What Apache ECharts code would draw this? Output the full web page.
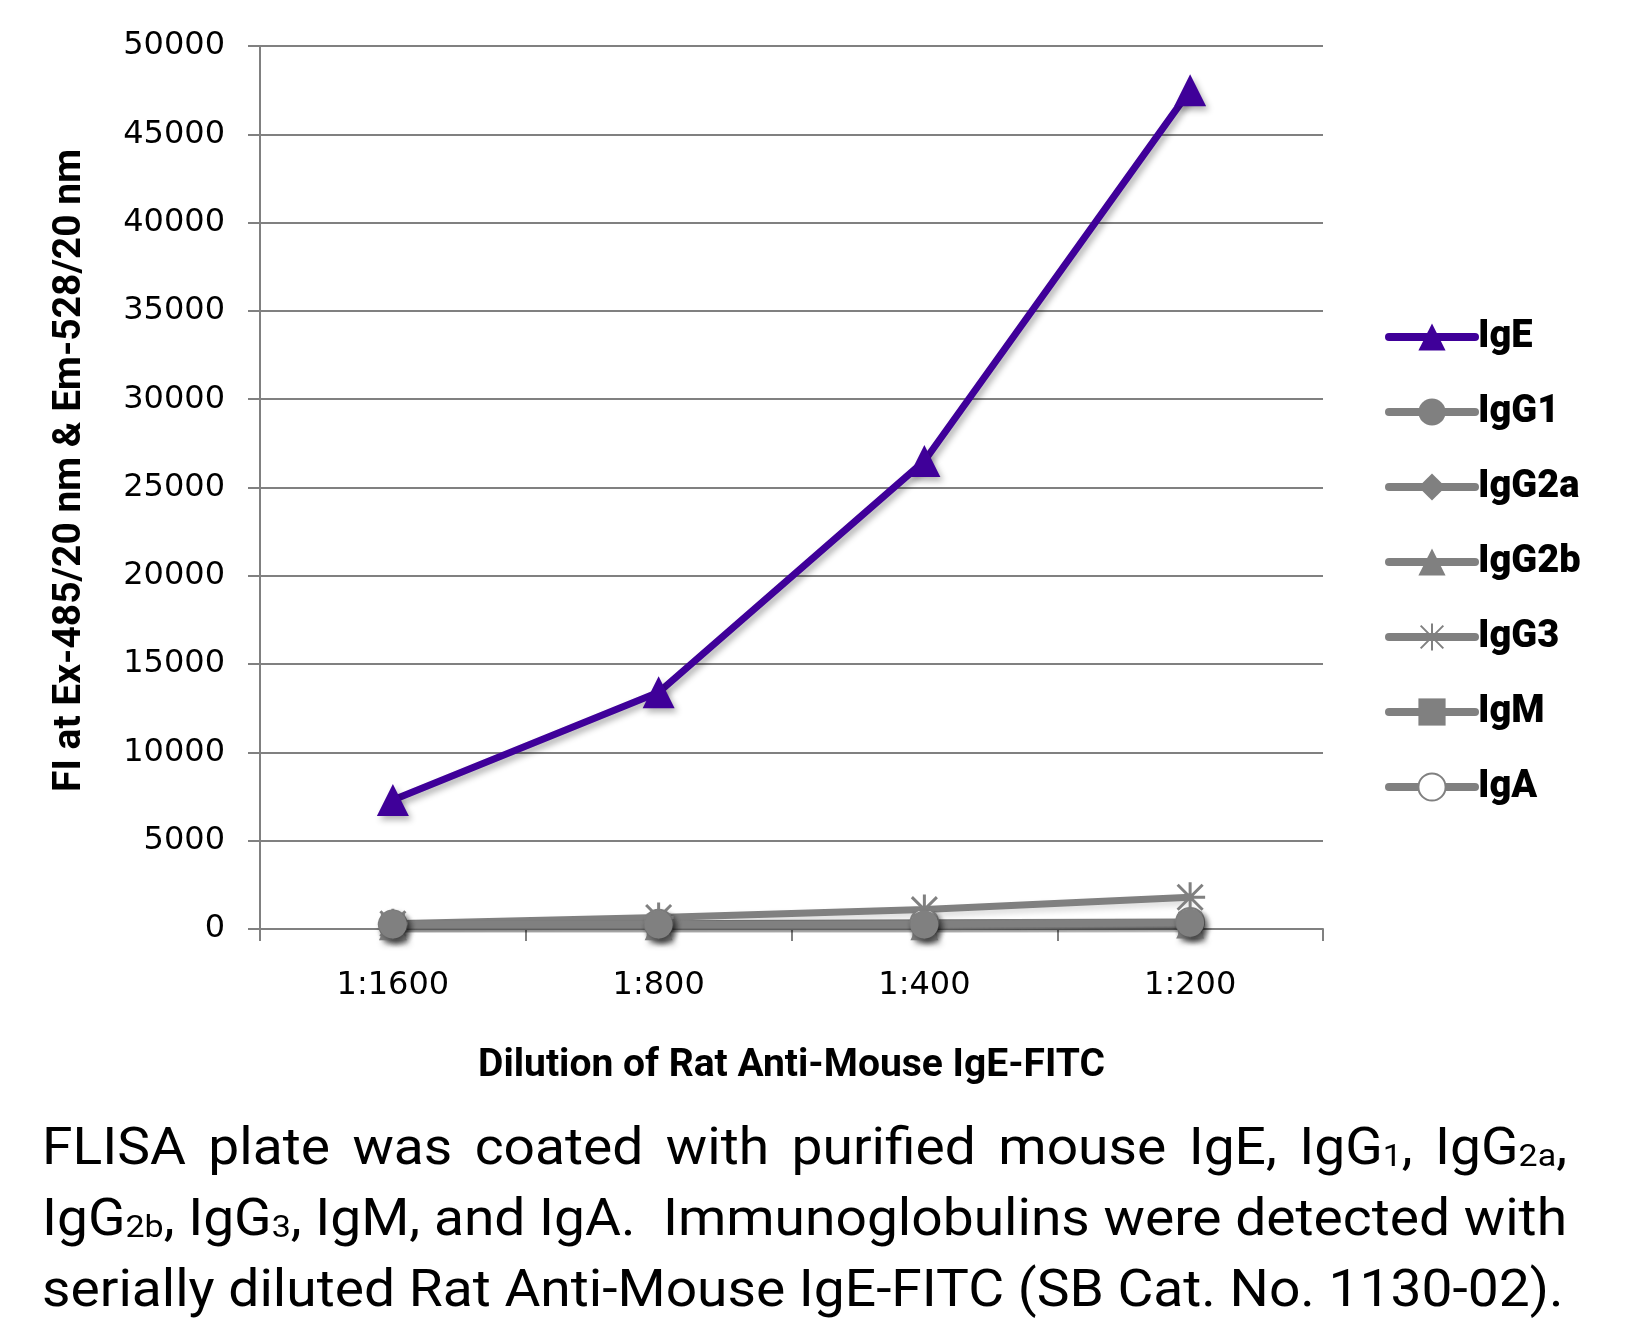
<!DOCTYPE html>
<html><head><meta charset="utf-8">
<script src="https://cdn.jsdelivr.net/npm/echarts@6/dist/echarts.min.js"></script>
<style>html,body{margin:0;padding:0;background:#fff}#c{width:1633px;height:1320px}</style>
</head><body><div id="c"></div>
<script>
const categories = ['1:1600', '1:800', '1:400', '1:200'];
const IgE = [7300, 13400, 26500, 47500];
const IgG1 = [250, 250, 250, 350];
const IgG2a = [200, 200, 200, 300];
const IgG2b = [150, 150, 150, 250];
const IgG3 = [300, 650, 1100, 1800];
const IgM = [200, 200, 200, 300];
const IgA = [250, 300, 350, 400];
const yTicks = [0, 5000, 10000, 15000, 20000, 25000, 30000, 35000, 40000, 45000, 50000];

// caption lines: arrays of [text, isSubscript]
const captionLines = [
  [['FLISA plate was coated with purified mouse IgE, IgG',0],['1',1],[', IgG',0],['2a',1],[',',0]],
  [['IgG',0],['2b',1],[', IgG',0],['3',1],[', IgM, and IgA.  Immunoglobulins were detected with',0]],
  [['serially diluted Rat Anti-Mouse IgE-FITC (SB Cat. No. 1130-02).',0]]
];

const gray = '#808080';
const shadow = {shadowColor: 'rgba(0,0,0,0.3)', shadowBlur: 6, shadowOffsetX: 3, shadowOffsetY: 4};
const lightShadow = {shadowColor: 'rgba(0,0,0,0.15)', shadowBlur: 6, shadowOffsetX: 3, shadowOffsetY: 4};
function s(name, data, symbol, opts) {
  return Object.assign({
    name, type: 'line', data, symbol, symbolSize: 28,
    lineStyle: Object.assign({color: gray, width: 7}, lightShadow),
    itemStyle: Object.assign({color: gray}, shadow),
    emphasis: {disabled: true}, animation: false, z: 2
  }, opts || {});
}

// caption layout
const capSize = 52, subSize = 32, capFamily = 'Roboto';
const cv = document.createElement('canvas').getContext('2d');
function w(t, sub) { cv.font = (sub ? subSize : capSize) + 'px ' + capFamily; return cv.measureText(t).width; }
function lineWidth(line) { return line.reduce((a, [t, sb]) => a + w(t, sb), 0); }
const targetW = 1525;
const scaleX = targetW / lineWidth(captionLines[1]);
const captionGraphics = captionLines.map((line, i) => {
  let text = '', rich = {
    n: {font: capSize + 'px ' + capFamily, fill: '#000'},
    s: {font: subSize + 'px ' + capFamily, fill: '#000', padding: [14, 0, 0, 0]}
  };
  if (i === 0) {
    let nGaps = 0, noSpaceW = 0;
    line.forEach(([t, sb]) => { if (!sb) { nGaps += (t.match(/ /g) || []).length; noSpaceW += w(t.replace(/ /g, ''), 0); } else noSpaceW += w(t, 1); });
    const gapW = (targetW / scaleX - noSpaceW) / nGaps;
    rich.g = {width: gapW, font: capSize + 'px ' + capFamily};
    line.forEach(([t, sb]) => {
      if (sb) text += '{s|' + t + '}';
      else t.split(' ').forEach((word, k) => { if (k > 0) text += '{g| }'; if (word) text += '{n|' + word + '}'; });
    });
  } else {
    line.forEach(([t, sb]) => { text += '{' + (sb ? 's' : 'n') + '|' + t + '}'; });
  }
  return {type: 'text', x: 42, y: 1125 + i * 71, scaleX: scaleX, style: {text, rich}};
});

const chart = echarts.init(document.getElementById('c'));
chart.setOption({
  animation: false,
  grid: {left: 260, right: 310, top: 46, bottom: 391},
  legend: {
    orient: 'vertical', left: 1380, top: 313, itemWidth: 86, itemHeight: 34, itemGap: 37,
    lineStyle: {width: 8, cap: 'round', shadowBlur: 0, shadowOffsetX: 0, shadowOffsetY: 0},
    itemStyle: {shadowBlur: 0, shadowOffsetX: 0, shadowOffsetY: 0},
    textStyle: {fontFamily: 'Roboto', fontWeight: 900, fontSize: 38, lineHeight: 34, color: '#000', padding: [0, 0, 0, -2]},
    data: ['IgE','IgG1','IgG2a','IgG2b','IgG3','IgM','IgA']
  },
  xAxis: {
    type: 'category', data: categories, boundaryGap: true,
    axisLine: {lineStyle: {color: gray, width: 2}},
    axisTick: {show: true, length: 12, lineStyle: {color: gray, width: 2}},
    axisLabel: {fontFamily: 'DejaVu Sans', fontSize: 32, color: '#000', margin: 41},
    name: 'Dilution of Rat Anti-Mouse IgE-FITC', nameLocation: 'middle', nameGap: 118,
    nameTextStyle: {fontFamily: 'Roboto', fontWeight: 'bold', fontSize: 39, color: '#000'}
  },
  yAxis: {
    type: 'value', min: 0, max: 50000, interval: 5000,
    axisLine: {show: true, lineStyle: {color: gray, width: 2}},
    axisTick: {show: true, length: 12, lineStyle: {color: gray, width: 2}},
    splitLine: {lineStyle: {color: gray, width: 2}},
    axisLabel: {fontFamily: 'DejaVu Sans', fontSize: 32, color: '#000', margin: 35,
      formatter: v => yTicks.includes(v) ? String(v) : ''},
    name: 'FI at Ex-485/20 nm & Em-528/20 nm', nameLocation: 'middle', nameGap: 170, nameRotate: 90,
    nameTextStyle: {fontFamily: 'Roboto', fontWeight: 'bold', fontSize: 39, color: '#000', padding: [0, 0, 0, 34]}
  },
  series: [
    s('IgA', IgA, 'emptyCircle', {itemStyle: Object.assign({color: gray, borderColor: gray, borderWidth: 3}, shadow)}),
    s('IgM', IgM, 'rect', {symbolSize: 24}),
    s('IgG3', IgG3, 'path://M0,0L10,10M10,0L0,10M5,-1L5,11M-1,5L11,5', {symbolSize: 30,
      itemStyle: {color: gray, borderColor: gray, borderWidth: 3}}),
    s('IgG2b', IgG2b, 'triangle'),
    s('IgG2a', IgG2a, 'diamond'),
    s('IgG1', IgG1, 'circle'),
    s('IgE', IgE, 'triangle', {symbolSize: 32, z: 5,
      lineStyle: Object.assign({color: '#3f0099', width: 7}, shadow),
      itemStyle: Object.assign({color: '#3f0099'}, shadow)})
  ],
  graphic: captionGraphics
});
</script></body></html>
